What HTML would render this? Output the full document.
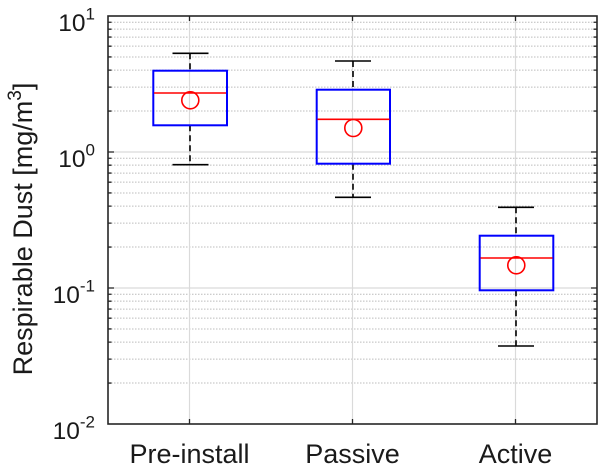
<!DOCTYPE html>
<html><head><meta charset="utf-8"><style>
html,body{margin:0;padding:0;background:#fff;}
svg{display:block;}
text{font-family:"Liberation Sans",Arial,sans-serif;fill:#1a1a1a;}
</style></head><body>
<svg width="600" height="466" viewBox="0 0 600 466" xmlns="http://www.w3.org/2000/svg">
<rect x="0" y="0" width="600" height="466" fill="#fff"/>
<!-- minor grid -->
<g stroke="#bcbcbc" stroke-width="1" stroke-dasharray="1.5 1.5" fill="none">
<line x1="108" x2="597" y1="383.06" y2="383.06"/><line x1="108" x2="597" y1="359.11" y2="359.11"/>
<line x1="108" x2="597" y1="342.12" y2="342.12"/><line x1="108" x2="597" y1="328.94" y2="328.94"/>
<line x1="108" x2="597" y1="318.17" y2="318.17"/><line x1="108" x2="597" y1="309.07" y2="309.07"/>
<line x1="108" x2="597" y1="301.18" y2="301.18"/><line x1="108" x2="597" y1="294.22" y2="294.22"/>
<line x1="108" x2="597" y1="247.06" y2="247.06"/><line x1="108" x2="597" y1="223.11" y2="223.11"/>
<line x1="108" x2="597" y1="206.12" y2="206.12"/><line x1="108" x2="597" y1="192.94" y2="192.94"/>
<line x1="108" x2="597" y1="182.17" y2="182.17"/><line x1="108" x2="597" y1="173.07" y2="173.07"/>
<line x1="108" x2="597" y1="165.18" y2="165.18"/><line x1="108" x2="597" y1="158.22" y2="158.22"/>
<line x1="108" x2="597" y1="111.06" y2="111.06"/><line x1="108" x2="597" y1="87.11" y2="87.11"/>
<line x1="108" x2="597" y1="70.12" y2="70.12"/><line x1="108" x2="597" y1="56.94" y2="56.94"/>
<line x1="108" x2="597" y1="46.17" y2="46.17"/><line x1="108" x2="597" y1="37.07" y2="37.07"/>
<line x1="108" x2="597" y1="29.18" y2="29.18"/><line x1="108" x2="597" y1="22.22" y2="22.22"/>
</g>
<!-- major grid -->
<g stroke="#dadada" stroke-width="1.2" fill="none">
<line x1="108" x2="597" y1="152" y2="152"/>
<line x1="108" x2="597" y1="288" y2="288"/>
<line x1="189.5" x2="189.5" y1="16" y2="424"/>
<line x1="352.5" x2="352.5" y1="16" y2="424"/>
<line x1="515.5" x2="515.5" y1="16" y2="424"/>
</g>
<!-- whiskers -->
<g stroke="#000" stroke-width="1.6" fill="none">
<line x1="190" x2="190" y1="53.3" y2="70.7" stroke-dasharray="6 4"/>
<line x1="190" x2="190" y1="125.3" y2="164.7" stroke-dasharray="6 4"/>
<line x1="172.5" x2="208.5" y1="53.3" y2="53.3"/>
<line x1="172.5" x2="208.5" y1="164.7" y2="164.7"/>
<line x1="353" x2="353" y1="61" y2="89.7" stroke-dasharray="6 4"/>
<line x1="353" x2="353" y1="163.7" y2="197.3" stroke-dasharray="6 4"/>
<line x1="335" x2="371" y1="61" y2="61"/>
<line x1="335" x2="371" y1="197.3" y2="197.3"/>
<line x1="516" x2="516" y1="207.3" y2="235.7" stroke-dasharray="6 4"/>
<line x1="516" x2="516" y1="290.3" y2="346" stroke-dasharray="6 4"/>
<line x1="498" x2="534" y1="207.3" y2="207.3"/>
<line x1="498" x2="534" y1="346" y2="346"/>
</g>
<!-- boxes -->
<g stroke="#0000ff" stroke-width="2" fill="none">
<rect x="153.3" y="70.7" width="73.7" height="54.6"/>
<rect x="316.7" y="89.7" width="73.3" height="74"/>
<rect x="479.7" y="235.7" width="73.6" height="54.6"/>
</g>
<g stroke="#ff0000" stroke-width="1.6" fill="none">
<line x1="154" x2="226" y1="93" y2="93"/>
<line x1="317.5" x2="389.5" y1="119.3" y2="119.3"/>
<line x1="480.5" x2="552.5" y1="258" y2="258"/>
<circle cx="190.3" cy="100.3" r="8.5"/>
<circle cx="353.3" cy="128" r="8.5"/>
<circle cx="516.3" cy="265.3" r="8.5"/>
</g>
<!-- axes ticks -->
<g stroke="#262626" stroke-width="1.3" fill="none">
<path d="M108 152h6M108 288h6M597 152h-6M597 288h-6"/>
<path d="M108 383.06h3.5M108 359.11h3.5M108 342.12h3.5M108 328.94h3.5M108 318.17h3.5M108 309.07h3.5M108 301.18h3.5M108 294.22h3.5M108 247.06h3.5M108 223.11h3.5M108 206.12h3.5M108 192.94h3.5M108 182.17h3.5M108 173.07h3.5M108 165.18h3.5M108 158.22h3.5M108 111.06h3.5M108 87.11h3.5M108 70.12h3.5M108 56.94h3.5M108 46.17h3.5M108 37.07h3.5M108 29.18h3.5M108 22.22h3.5"/>
<path d="M597 383.06h-3.5M597 359.11h-3.5M597 342.12h-3.5M597 328.94h-3.5M597 318.17h-3.5M597 309.07h-3.5M597 301.18h-3.5M597 294.22h-3.5M597 247.06h-3.5M597 223.11h-3.5M597 206.12h-3.5M597 192.94h-3.5M597 182.17h-3.5M597 173.07h-3.5M597 165.18h-3.5M597 158.22h-3.5M597 111.06h-3.5M597 87.11h-3.5M597 70.12h-3.5M597 56.94h-3.5M597 46.17h-3.5M597 37.07h-3.5M597 29.18h-3.5M597 22.22h-3.5"/>
<path d="M189.5 424v-5M352.5 424v-5M515.5 424v-5M189.5 16v5M352.5 16v5M515.5 16v5"/>
</g>
<rect x="108" y="16" width="489" height="408" fill="none" stroke="#262626" stroke-width="1.6"/>
<!-- y tick labels -->
<g font-size="24.5" text-anchor="end">
<text x="95" y="31">10<tspan font-size="17" dy="-11.5">1</tspan></text>
<text x="95" y="167">10<tspan font-size="17" dy="-11.5">0</tspan></text>
<text x="95" y="303">10<tspan font-size="17" dy="-11.5">-1</tspan></text>
<text x="95" y="439">10<tspan font-size="17" dy="-11.5">-2</tspan></text>
</g>
<!-- x tick labels -->
<g font-size="27" text-anchor="middle">
<text x="189.5" y="463">Pre-install</text>
<text x="352.5" y="463">Passive</text>
<text x="515.5" y="463">Active</text>
</g>
<!-- y label -->
<text transform="translate(32,229) rotate(-90)" text-anchor="middle" font-size="27">Respirable Dust [mg/m<tspan font-size="19" dy="-11">3</tspan><tspan dy="11">]</tspan></text>
</svg>
</body></html>
